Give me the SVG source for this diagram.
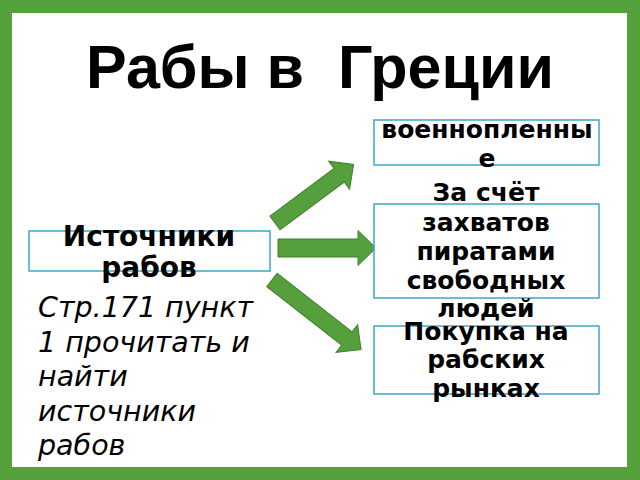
<svg xmlns="http://www.w3.org/2000/svg" width="640" height="480" viewBox="0 0 640 480">
<style>
.box{fill:#ffffff;stroke:#3ea6c9;stroke-width:1.5}
.bt{font-family:"DejaVu Sans",sans-serif;font-weight:bold;font-size:25px;fill:#000;text-anchor:middle}
.lt{font-family:"DejaVu Sans",sans-serif;font-weight:bold;font-size:28px;fill:#000;text-anchor:middle}
.it{font-family:"DejaVu Sans",sans-serif;font-style:italic;font-size:28.5px;fill:#000}
.arr{fill:#55a03c;stroke:#3f7f2c;stroke-width:1}
</style>
<rect x="0" y="0" width="640" height="480" fill="#55a13c"/>
<rect x="12" y="13" width="615" height="454" fill="#ffffff"/>
<text x="320" y="88" font-family="'Liberation Sans',Arial,sans-serif" font-weight="bold" font-size="61" text-anchor="middle" xml:space="preserve" fill="#000">Рабы в  Греции</text>
<g id="connectors">
<polygon class="arr" points="0,-8.5 80,-8.5 80,-17.5 98,0 80,17.5 80,8.5 0,8.5" transform="translate(275,223) rotate(-36.7)"/>
<polygon class="arr" points="0,-9 80,-9 80,-17.5 98,0 80,17.5 80,9 0,9" transform="translate(278,248)"/>
<polygon class="arr" points="0,-8.5 95,-8.5 95,-17.5 113,0 95,17.5 95,8.5 0,8.5" transform="translate(272,280) rotate(38)"/>
</g>
<g id="source">
<rect class="box" x="29" y="231" width="241" height="40"/>
<text class="lt" x="149" y="246">Источники</text>
<text class="lt" x="149" y="277">рабов</text>
</g>
<g id="pow">
<rect class="box" x="374" y="120" width="225" height="45"/>
<text class="bt" x="487" y="138">военнопленны</text>
<text class="bt" x="487" y="166.5">е</text>
</g>
<g id="pirates">
<rect class="box" x="374" y="204" width="225" height="94"/>
<text class="bt" x="486" y="201">За счёт</text>
<text class="bt" x="486" y="231">захватов</text>
<text class="bt" x="486" y="260">пиратами</text>
<text class="bt" x="486" y="289">свободных</text>
<text class="bt" x="486" y="317">людей</text>
</g>
<g id="market">
<rect class="box" x="374" y="326" width="225" height="68"/>
<text class="bt" x="486" y="340">Покупка на</text>
<text class="bt" x="486" y="368">рабских</text>
<text class="bt" x="486" y="397">рынках</text>
</g>
<g id="note">
<text class="it" x="38" y="317">Стр.171 пункт</text>
<text class="it" x="38" y="351.5">1 прочитать и</text>
<text class="it" x="38" y="386">найти</text>
<text class="it" x="38" y="420.5">источники</text>
<text class="it" x="38" y="455">рабов</text>
</g>
</svg>
